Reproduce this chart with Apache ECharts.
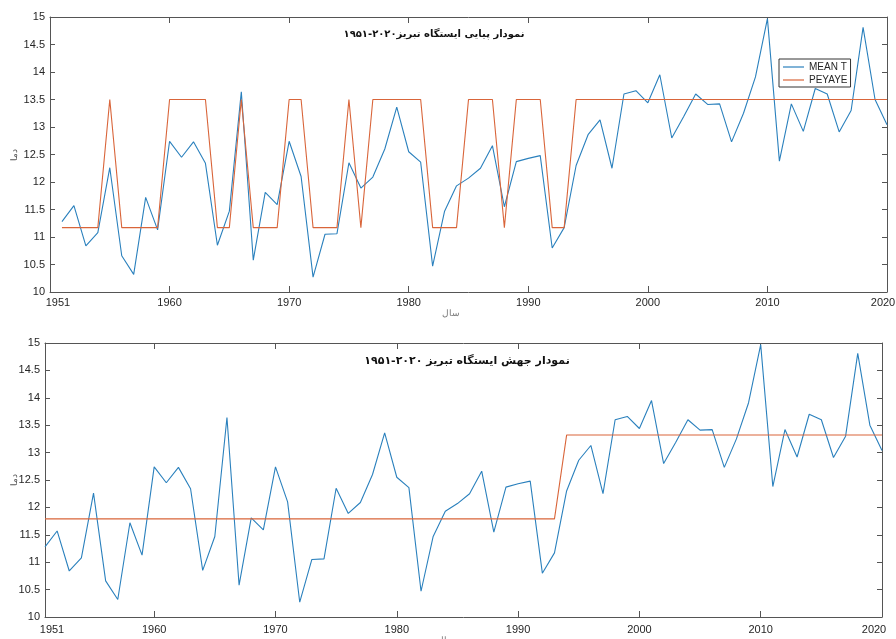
<!DOCTYPE html>
<html>
<head>
<meta charset="utf-8">
<script src="https://cdn.jsdelivr.net/npm/echarts@6/dist/echarts.min.js"></script>
<style>
  html, body { margin: 0; padding: 0; background: #fff; }
  #chart { width: 896px; height: 639px; }
</style>
</head>
<body>
<div id="chart"></div>
<script>
  const years = [1951, 1952, 1953, 1954, 1955, 1956, 1957, 1958, 1959, 1960,
    1961, 1962, 1963, 1964, 1965, 1966, 1967, 1968, 1969, 1970,
    1971, 1972, 1973, 1974, 1975, 1976, 1977, 1978, 1979, 1980,
    1981, 1982, 1983, 1984, 1985, 1986, 1987, 1988, 1989, 1990,
    1991, 1992, 1993, 1994, 1995, 1996, 1997, 1998, 1999, 2000,
    2001, 2002, 2003, 2004, 2005, 2006, 2007, 2008, 2009, 2010,
    2011, 2012, 2013, 2014, 2015, 2016, 2017, 2018, 2019, 2020]

  // mean annual temperature, Tabriz
  const meanT = [11.28, 11.57, 10.84, 11.08, 12.26, 10.66, 10.32, 11.72, 11.13, 12.74,
    12.45, 12.73, 12.34, 10.85, 11.47, 13.64, 10.58, 11.81, 11.59, 12.74,
    12.10, 10.27, 11.05, 11.06, 12.35, 11.89, 12.09, 12.60, 13.36, 12.55,
    12.36, 10.47, 11.47, 11.93, 12.07, 12.25, 12.66, 11.55, 12.37, 12.43,
    12.48, 10.80, 11.17, 12.30, 12.86, 13.13, 12.25, 13.60, 13.66, 13.44,
    13.95, 12.80, 13.19, 13.60, 13.41, 13.42, 12.73, 13.25, 13.91, 14.97,
    12.38, 13.42, 12.92, 13.70, 13.60, 12.91, 13.30, 14.81, 13.50, 13.04]

  // persistence (پیایی) line, top chart
  const peyaye = [11.17, 11.17, 11.17, 11.17, 13.5, 11.17, 11.17, 11.17, 11.17, 13.5,
    13.5, 13.5, 13.5, 11.17, 11.17, 13.5, 11.17, 11.17, 11.17, 13.5,
    13.5, 11.17, 11.17, 11.17, 13.5, 11.17, 13.5, 13.5, 13.5, 13.5,
    13.5, 11.17, 11.17, 11.17, 13.5, 13.5, 13.5, 11.17, 13.5, 13.5,
    13.5, 11.17, 11.17, 13.5, 13.5, 13.5, 13.5, 13.5, 13.5, 13.5,
    13.5, 13.5, 13.5, 13.5, 13.5, 13.5, 13.5, 13.5, 13.5, 13.5,
    13.5, 13.5, 13.5, 13.5, 13.5, 13.5, 13.5, 13.5, 13.5, 13.5]

  // jump (جهش) line, bottom chart
  const jump = [11.79, 11.79, 11.79, 11.79, 11.79, 11.79, 11.79, 11.79, 11.79, 11.79,
    11.79, 11.79, 11.79, 11.79, 11.79, 11.79, 11.79, 11.79, 11.79, 11.79,
    11.79, 11.79, 11.79, 11.79, 11.79, 11.79, 11.79, 11.79, 11.79, 11.79,
    11.79, 11.79, 11.79, 11.79, 11.79, 11.79, 11.79, 11.79, 11.79, 11.79,
    11.79, 11.79, 11.79, 13.32, 13.32, 13.32, 13.32, 13.32, 13.32, 13.32,
    13.32, 13.32, 13.32, 13.32, 13.32, 13.32, 13.32, 13.32, 13.32, 13.32,
    13.32, 13.32, 13.32, 13.32, 13.32, 13.32, 13.32, 13.32, 13.32, 13.32]

  const topLabelTicks = [1951, 1960, 1970, 1980, 1990, 2000, 2010, 2020]
  const bottomLabelTicks = [1951, 1960, 1970, 1980, 1990, 2000, 2010, 2020]
  const decadeTicks = [1960, 1970, 1980, 1990, 2000, 2010]
  const yTicks = [10, 10.5, 11, 11.5, 12, 12.5, 13, 13.5, 14, 14.5, 15]

  const topTitle = 'نمودار پیایی ایستگاه تبریز۲۰۲۰-۱۹۵۱'
  const bottomTitle = 'نمودار جهش ایستگاه تبریز ۲۰۲۰-۱۹۵۱'

  const blue = '#2a80bd'
  const orange = '#d9653a'
  const axisColor = '#555'
  const textColor = '#262626'

  function pairs(vals) {
    return years.map((y, i) => [y, vals[i]])
  }

  function xMain(gridIndex, min, edgePad) {
    return {
      type: 'value', gridIndex: gridIndex, min: min, max: 2020, position: 'bottom',
      name: 'سال', nameLocation: 'middle', nameGap: 15,
      nameTextStyle: { fontSize: 9, color: '#777', padding: [0, 36, 0, 0] },
      axisLine: { lineStyle: { color: axisColor } },
      splitLine: { show: false },
      axisTick: { inside: true, length: 6, customValues: decadeTicks, lineStyle: { color: axisColor } },
      axisLabel: {
        customValues: gridIndex === 0 ? topLabelTicks : bottomLabelTicks,
        fontSize: 11, color: textColor, fontFamily: 'Liberation Sans, Arial', margin: gridIndex === 0 ? 5 : 7,
        formatter: function (v) {
          if (v === 1951) return '{a|1951}'
          if (v === 2020) return '{b|2020}'
          return String(v)
        },
        rich: {
          a: { fontSize: 11, color: textColor, padding: edgePad[0] },
          b: { fontSize: 11, color: textColor, padding: edgePad[1] }
        }
      }
    }
  }

  function xMirror(gridIndex, min) {
    return {
      type: 'value', gridIndex: gridIndex, min: min, max: 2020, position: 'top',
      axisLine: { lineStyle: { color: axisColor } },
      splitLine: { show: false },
      axisTick: { inside: true, length: 6, customValues: decadeTicks, lineStyle: { color: axisColor } },
      axisLabel: { show: false }
    }
  }

  function yMain(gridIndex) {
    return {
      type: 'value', gridIndex: gridIndex, min: 10, max: 15, position: 'left',
      name: 'دما', nameLocation: 'middle', nameGap: gridIndex === 0 ? 31 : 26, nameRotate: 90,
      nameMoveOverlap: false,
      nameTextStyle: { fontSize: 9, color: '#555' },
      axisLine: { show: true, lineStyle: { color: axisColor } },
      splitLine: { show: false },
      axisTick: { show: true, inside: true, length: 5, customValues: yTicks, lineStyle: { color: axisColor } },
      axisLabel: { customValues: yTicks, fontSize: 11, color: textColor, fontFamily: 'Liberation Sans, Arial', margin: 5 }
    }
  }

  function yMirror(gridIndex) {
    return {
      type: 'value', gridIndex: gridIndex, min: 10, max: 15, position: 'right',
      axisLine: { show: true, lineStyle: { color: axisColor } },
      splitLine: { show: false },
      axisTick: { show: true, inside: true, length: 5, customValues: yTicks, lineStyle: { color: axisColor } },
      axisLabel: { show: false }
    }
  }

  function line(name, vals, color, xi, yi) {
    return {
      name: name, type: 'line', xAxisIndex: xi, yAxisIndex: yi,
      data: pairs(vals), symbol: 'none',
      lineStyle: { color: color, width: 1.1 }, itemStyle: { color: color }
    }
  }

  function initChart() {
    const chart = echarts.init(document.getElementById('chart'))
    chart.setOption({
      animation: false,
      backgroundColor: '#fff',
      grid: [
        { left: 50, right: 9, top: 17, height: 275, containLabel: false, outerBoundsMode: 'none' },
        { left: 45, right: 14, top: 343, height: 274, containLabel: false, outerBoundsMode: 'none' }
      ],
      xAxis: [
        xMain(0, 1950, [[0, 8, 0, 0], [0, 8, 0, 0]]),
        xMirror(0, 1950),
        xMain(1, 1951, [[0, 0, 0, 14], [0, 16, 0, 0]]),
        xMirror(1, 1951)
      ],
      yAxis: [yMain(0), yMirror(0), yMain(1), yMirror(1)],
      legend: {
        data: ['MEAN T', 'PEYAYE'],
        orient: 'vertical', left: 779, top: 59,
        backgroundColor: '#fff', borderColor: '#333', borderWidth: 1,
        padding: [3, 3, 2, 4], itemGap: 3, itemWidth: 21, itemHeight: 1.2,
        icon: 'rect',
        textStyle: { fontSize: 10, color: textColor, fontFamily: 'Liberation Sans, Arial' }
      },
      graphic: [
        {
          type: 'text', x: 434, y: 34,
          style: { text: topTitle, align: 'center', verticalAlign: 'middle', fill: '#111', font: 'bold 10px DejaVu Sans' }
        },
        {
          type: 'text', x: 467, y: 361,
          style: { text: bottomTitle, align: 'center', verticalAlign: 'middle', fill: '#111', font: 'bold 11px DejaVu Sans' }
        }
      ],
      series: [
        line('MEAN T', meanT, blue, 0, 0),
        line('PEYAYE', peyaye, orange, 0, 0),
        line('MEAN T jump', meanT, blue, 2, 2),
        line('JUMP', jump, orange, 2, 2)
      ]
    })
  }

  initChart()
</script>
</body>
</html>
